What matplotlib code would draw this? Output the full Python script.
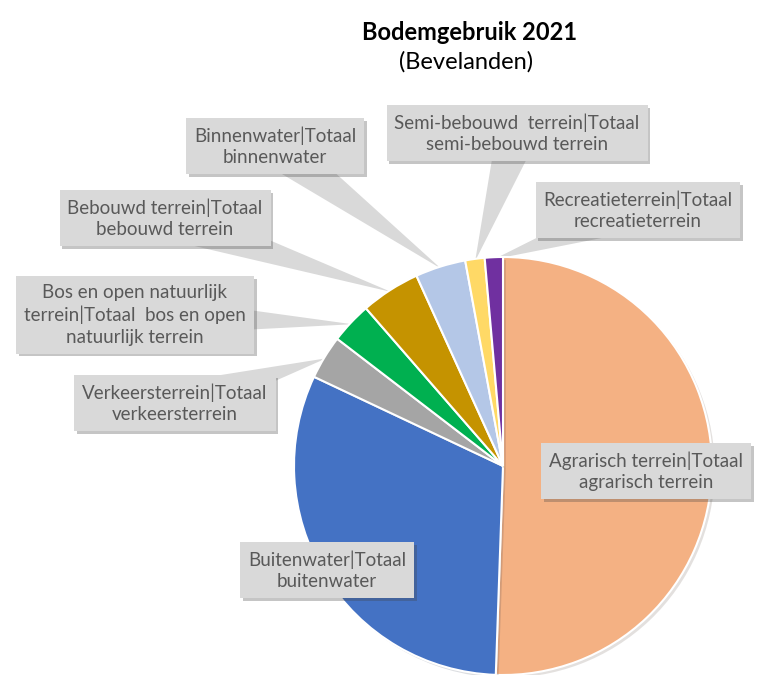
import numpy as np
import matplotlib
matplotlib.use("Agg")
from matplotlib import pyplot as plt
from matplotlib import patheffects as pe

# Values (share in %), clockwise from 12 o'clock
categories = ['Agrarisch terrein|Totaal\nagrarisch terrein',
              'Buitenwater|Totaal\nbuitenwater',
              'Verkeersterrein|Totaal\nverkeersterrein',
              'Bos en open natuurlijk\nterrein|Totaal  bos en open\nnatuurlijk terrein',
              'Bebouwd terrein|Totaal\nbebouwd terrein',
              'Binnenwater|Totaal\nbinnenwater',
              'Semi-bebouwd  terrein|Totaal\nsemi-bebouwd terrein',
              'Recreatieterrein|Totaal\nrecreatieterrein']
shares = [50.6, 31.5, 3.4, 3.2, 4.6, 3.9, 1.5, 1.4]
colors = ['#F4B183', '#4472C4', '#A5A5A5', '#00B050',
          '#C59300', '#B4C7E7', '#FFD966', '#7030A0']

# layout (pixel coords, y from top)
W, H = 774, 675
center = (503, H - 466)
radius = 209
label_pos = [(646, 471), (327, 570), (175, 403), (135, 315),
             (165, 218), (275, 146), (517, 133), (638, 210)]
inside = [True, True, False, False, False, False, False, False]

plt.rcParams['font.family'] = ['Lato', 'DejaVu Sans']

fig = plt.figure(figsize=(W / 100, H / 100), dpi=100)
ax = fig.add_axes([0, 0, 1, 1])

wedges, _ = ax.pie(shares, colors=colors, startangle=90, counterclock=False,
                   center=center, radius=radius,
                   wedgeprops=dict(edgecolor='white', linewidth=1.5))
for w in wedges:
    w.set_path_effects([pe.SimplePatchShadow(offset=(2, -2), alpha=0.15),
                        pe.Normal()])

ax.set_xlim(0, W)
ax.set_ylim(0, H)
ax.set_aspect('equal')
ax.axis('off')

for w, txt, (lx, ly), ins in zip(wedges, categories, label_pos, inside):
    mid = np.deg2rad((w.theta1 + w.theta2) / 2)
    tip = (center[0] + 0.99 * radius * np.cos(mid),
           center[1] + 0.99 * radius * np.sin(mid))
    bbox = dict(boxstyle='square,pad=0.42', fc='#D9D9D9', ec='none')
    if ins:
        t = ax.text(lx, H - ly, txt, ha='center', va='center', fontsize=13.5,
                    color='#595959', bbox=bbox, zorder=5, linespacing=1.3)
    else:
        t = ax.annotate(txt, xy=tip, xytext=(lx, H - ly),
                        ha='center', va='center', fontsize=13.5,
                        color='#595959', bbox=bbox, zorder=0.5,
                        linespacing=1.3,
                        arrowprops=dict(arrowstyle='wedge,tail_width=2.2',
                                        fc='#D9D9D9', ec='none',
                                        patchA=None, shrinkA=0, shrinkB=0))
    t.get_bbox_patch().set_path_effects(
        [pe.SimplePatchShadow(offset=(2, -2), alpha=0.3), pe.Normal()])

ax.text(470, H - 32, 'Bodemgebruik 2021', ha='center', va='center',
        fontsize=17, fontweight='bold', color='black')
ax.text(466, H - 62, '(Bevelanden)', ha='center', va='center',
        fontsize=17, color='black')

fig.savefig('out.png', dpi=100)
